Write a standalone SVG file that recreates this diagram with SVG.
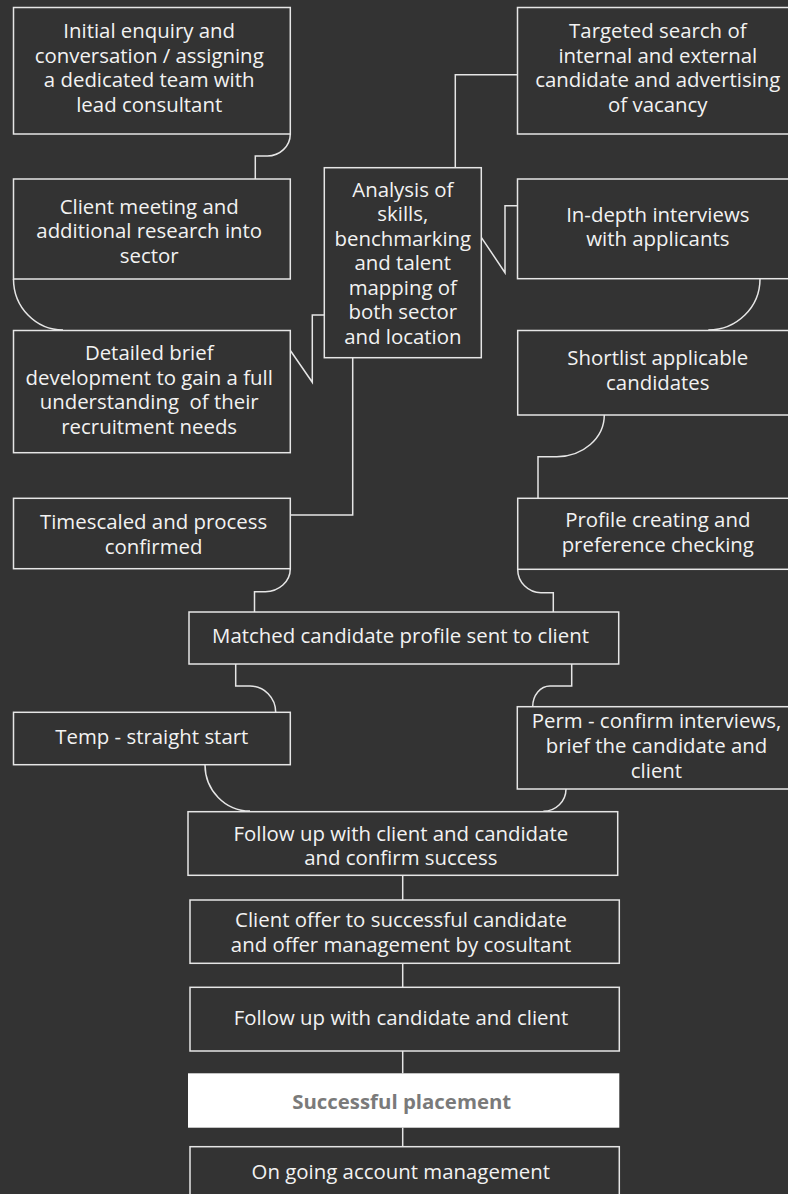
<svg xmlns="http://www.w3.org/2000/svg" width="788" height="1194" viewBox="0 0 788 1194">
<style>
.box{fill:#333333;stroke:#e6e6e6;stroke-width:1.5}
.hl{fill:#ffffff;stroke:none}
.t{font-family:"Open Sans","Noto Sans","Liberation Sans",sans-serif;font-size:20.4px;fill:#f2f2f2;text-anchor:middle;white-space:pre}
.tb{font-family:"Open Sans","Noto Sans","Liberation Sans",sans-serif;font-size:20.4px;font-weight:bold;fill:#7a7a7a;text-anchor:middle}
.c{fill:none;stroke:#e6e6e6;stroke-width:1.5}
</style>
<rect x="0" y="0" width="788" height="1194" fill="#333333"/>
<g id="connectors">
<path class="c" d="M290.3,134 A23 22 0 0 1 267,156 H255.3 V179"/>
<path class="c" d="M13.5,279 A49.5 51 0 0 0 63,330"/>
<path class="c" d="M290,350 L312.3,382.3 V315 H324.3"/>
<path class="c" d="M290.3,515 H352.7 V357.7"/>
<path class="c" d="M290.3,568.7 A25 23 0 0 1 265,591.7 H254.5 V612"/>
<path class="c" d="M455.3,167.7 V74.7 H517.3"/>
<path class="c" d="M481.3,237.3 L505,272.7 V205.7 H517.3"/>
<path class="c" d="M760,279 A51.7 51 0 0 1 708.3,330"/>
<path class="c" d="M604.3,415 A47.6 41.7 0 0 1 556.7,456.7 H538 V498.3"/>
<path class="c" d="M517.7,569.3 A23.3 23.3 0 0 0 541,592.7 H553.3 V612"/>
<path class="c" d="M235.7,664 V686 H250 A25.7 26.3 0 0 1 275.7,712.3"/>
<path class="c" d="M571.7,664 V686 H550 A17.3 20.7 0 0 0 532.7,706.7"/>
<path class="c" d="M205,764.7 A45 46.3 0 0 0 250,811"/>
<path class="c" d="M566,789 A22.7 22.3 0 0 1 543.3,811.3"/>
<path class="c" d="M402.7,875.3 V900"/>
<path class="c" d="M402.7,963.3 V987.3"/>
<path class="c" d="M402.7,1051 V1073.3"/>
<path class="c" d="M402.7,1127.7 V1146.7"/>
</g>
<g id="n1"><rect class="box" x="13.5" y="7.5" width="276.8" height="126.5"/>
<text class="t"><tspan x="149.2" y="38.3">Initial enquiry and</tspan><tspan x="149.2" y="62.8">conversation / assigning</tspan><tspan x="149.2" y="87.3">a dedicated team with</tspan><tspan x="149.2" y="111.8">lead consultant</tspan></text></g>
<g id="n2"><rect class="box" x="13.5" y="179" width="276.8" height="100"/>
<text class="t"><tspan x="149.2" y="213.5">Client meeting and</tspan><tspan x="149.2" y="238">additional research into</tspan><tspan x="149.2" y="262.5">sector</tspan></text></g>
<g id="n3"><rect class="box" x="13.5" y="330.5" width="276.8" height="122.2"/>
<text class="t"><tspan x="149.2" y="360">Detailed brief</tspan><tspan x="149.2" y="384.5">development to gain a full</tspan><tspan x="149.2" y="409">understanding  of their</tspan><tspan x="149.2" y="433.5">recruitment needs</tspan></text></g>
<g id="n4"><rect class="box" x="13.5" y="498.3" width="276.8" height="70.4"/>
<text class="t"><tspan x="153.6" y="529.3">Timescaled and process</tspan><tspan x="153.6" y="553.8">confirmed</tspan></text></g>
<g id="n5"><rect class="box" x="324.3" y="167.7" width="157" height="190"/>
<text class="t"><tspan x="402.8" y="196.7">Analysis of</tspan><tspan x="402.8" y="221.2">skills,</tspan><tspan x="402.8" y="245.7">benchmarking</tspan><tspan x="402.8" y="270.2">and talent</tspan><tspan x="402.8" y="294.7">mapping of</tspan><tspan x="402.8" y="319.2">both sector</tspan><tspan x="402.8" y="343.7">and location</tspan></text></g>
<g id="n6"><rect class="box" x="517.5" y="7.5" width="272" height="126.5"/>
<text class="t"><tspan x="657.8" y="38.3">Targeted search of</tspan><tspan x="657.8" y="62.8">internal and external</tspan><tspan x="657.8" y="87.3">candidate and advertising</tspan><tspan x="657.8" y="111.8">of vacancy</tspan></text></g>
<g id="n7"><rect class="box" x="517.5" y="179" width="272" height="99.7"/>
<text class="t"><tspan x="657.8" y="221.7">In-depth interviews</tspan><tspan x="657.8" y="246.2">with applicants</tspan></text></g>
<g id="n8"><rect class="box" x="517.7" y="330.5" width="272" height="84.5"/>
<text class="t"><tspan x="657.8" y="365">Shortlist applicable</tspan><tspan x="657.8" y="389.5">candidates</tspan></text></g>
<g id="n9"><rect class="box" x="517.7" y="498.3" width="272" height="71"/>
<text class="t"><tspan x="657.8" y="527.3">Profile creating and</tspan><tspan x="657.8" y="551.8">preference checking</tspan></text></g>
<g id="n10"><rect class="box" x="189" y="612" width="429.7" height="52"/>
<text class="t" x="400.5" y="643.3">Matched candidate profile sent to client</text></g>
<g id="n11"><rect class="box" x="13.5" y="712.3" width="276.8" height="52.4"/>
<text class="t" x="151.8" y="743.5">Temp - straight start</text></g>
<g id="n12"><rect class="box" x="517.3" y="706.7" width="272" height="82.3"/>
<text class="t"><tspan x="656.5" y="728.3">Perm - confirm interviews,</tspan><tspan x="656.5" y="753.3">brief the candidate and</tspan><tspan x="656.5" y="778">client</tspan></text></g>
<g id="n13"><rect class="box" x="188" y="811.7" width="429.7" height="63.6"/>
<text class="t"><tspan x="400.8" y="840.7">Follow up with client and candidate</tspan><tspan x="400.8" y="865">and confirm success</tspan></text></g>
<g id="n14"><rect class="box" x="190" y="900" width="429.3" height="63.3"/>
<text class="t"><tspan x="401" y="926.7">Client offer to successful candidate</tspan><tspan x="401" y="951.5">and offer management by cosultant</tspan></text></g>
<g id="n15"><rect class="box" x="190" y="987.3" width="429.3" height="63.7"/>
<text class="t" x="401" y="1025">Follow up with candidate and client</text></g>
<g id="n16"><rect class="hl" x="188" y="1073.3" width="431.3" height="54.4"/>
<text class="tb" x="401.7" y="1109">Successful placement</text></g>
<g id="n17"><rect class="box" x="190" y="1146.7" width="429.3" height="62"/>
<text class="t" x="400.8" y="1179">On going account management</text></g>
</svg>
